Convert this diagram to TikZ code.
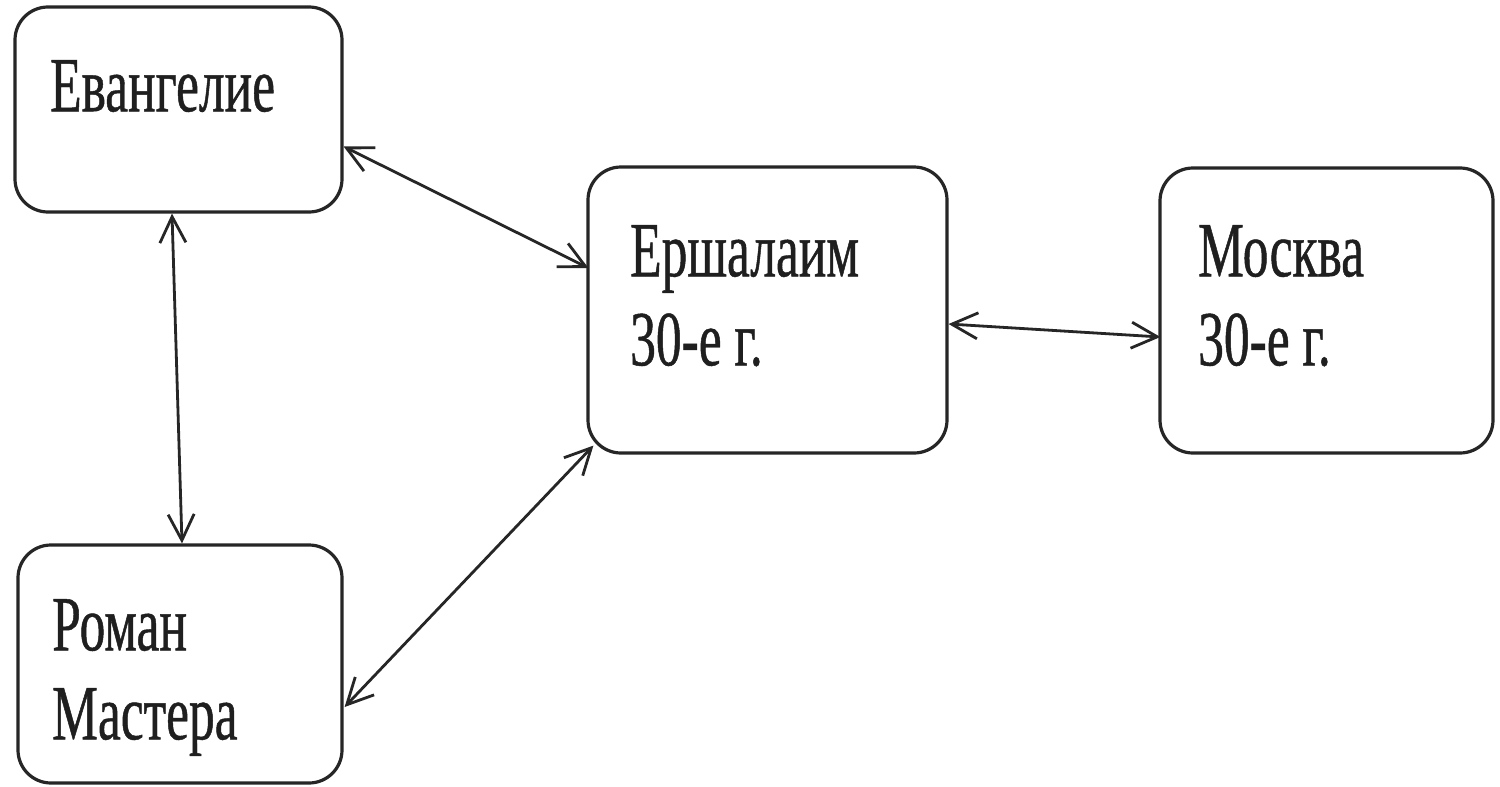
\documentclass[tikz,border=0pt]{standalone}
\usepackage{fontspec}
\setmainfont{Liberation Serif}
\newfontfamily\condfont[FakeStretch=0.66,FakeBold=0.6]{Liberation Serif}
\usetikzlibrary{arrows.meta,calc}
\tikzset{
  box/.style={draw=black!85, line width=3.2pt, rounded corners=33pt, inner sep=0pt},
  lbl/.style={anchor=north west, inner sep=0pt, align=left, font=\condfont\fontsize{78}{89}\selectfont, text=black!88},
  link/.style={draw=black!85, line width=2.8pt, {Straight Barb[length=26pt,width=26pt]}-{Straight Barb[length=26pt,width=26pt]}}
}
\begin{document}
\begin{tikzpicture}[x=1pt,y=-1pt]
\useasboundingbox[fill=white] (0,0) rectangle (1500,787);
\node[box, minimum width=327pt, minimum height=205pt] (ev) at (178.5,109.5) {};
\node[box, minimum width=359pt, minimum height=286pt] (ersh) at (767.5,310) {};
\node[box, minimum width=333pt, minimum height=285pt] (mos) at (1326.5,310.5) {};
\node[box, minimum width=324pt, minimum height=238pt] (rom) at (180,664) {};
\node[lbl] (evt) at (50,60) {Евангелие};
\node[lbl] (ersht) at (630,225) {Ершалаим\\30-е г.};
\node[lbl] (most) at (1198,225) {Москва\\30-е г.};
\node[lbl] (romt) at (52,599) {Роман\\Мастера};
\draw[link] ($(ev.east)+(0,37)$) -- ($(ersh.west)+(2,-42)$);
\draw[link] ($(ev.south)+(-6.5,0)$) -- ($(rom.north)+(2,0)$);
\draw[link] ($(rom.east)+(1,43)$) -- ($(ersh.south west)+(7,-9)$);
\draw[link] ($(ersh.east)+(0,14)$) -- ($(mos.west)+(2,26.5)$);
\end{tikzpicture}
\end{document}
